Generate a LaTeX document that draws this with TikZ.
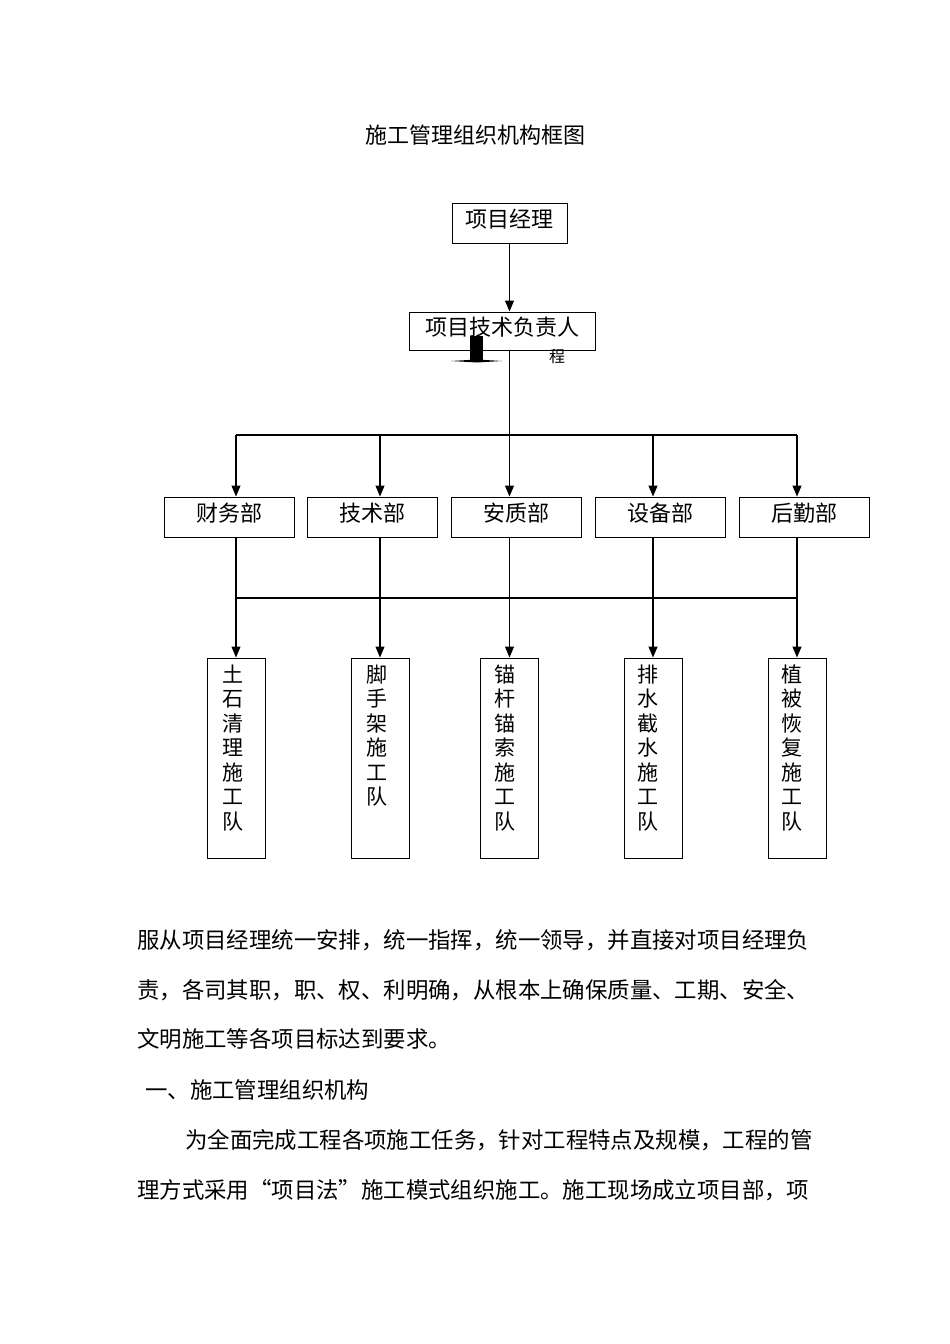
\documentclass[tikz,border=0pt]{standalone}
\usepackage{fontspec}
\newfontfamily\cjk{Noto Sans CJK SC}
\usetikzlibrary{calc, arrows.meta}

\tikzset{
  box/.style={draw, line width=1pt, inner sep=0pt, text depth=10pt, font=\cjk\fontsize{22}{24}\selectfont},
  dept/.style={box, minimum width=130pt, minimum height=40pt},
  team/.style={box, minimum width=58pt, minimum height=200pt},
  vtext/.style={font=\cjk\fontsize{21}{24.5}\selectfont, align=center, inner sep=0pt, anchor=north},
  link/.style={line width=1.2pt},
  arr/.style={link, -{Triangle[width=9pt,length=11pt]}},
  para/.style={font=\cjk\fontsize{22.4}{24}\selectfont, anchor=west, inner sep=0pt},
}

\begin{document}
\begin{tikzpicture}[x=1pt, y=-1pt]
    \useasboundingbox (0,0) rectangle (950,1344);

    \node[font=\cjk\fontsize{22}{24}\selectfont] (title) at (475,135) {施工管理组织机构框图};

    \node[box, minimum width=115pt, minimum height=40pt] (PM) at (509.5,223) {项目经理};
    \node[box, minimum width=186pt, minimum height=38pt] (TL) at (502,331) {项目技术负责人};
    \node[font=\cjk\fontsize{16}{16}\selectfont, inner sep=0pt] (cheng) at (557,357) {程};

    % the odd block mark under the box
    \fill (470,336) rectangle (483,361);
    \fill (451,361) -- (477,359.5) -- (502,361) -- (477,362.5) -- cycle;

    \node[dept] (D1) at (229,517) {财务部};
    \node[dept] (D2) at (372.5,517) {技术部};
    \node[dept] (D3) at (516,517) {安质部};
    \node[dept] (D4) at (660,517) {设备部};
    \node[dept] (D5) at (804,517) {后勤部};

    \node[team] (T1) at (236,758) {};
    \node[team] (T2) at (380,758) {};
    \node[team] (T3) at (509.5,758) {};
    \node[team] (T4) at (653,758) {};
    \node[team] (T5) at (797,758) {};

    \node[vtext] (L1) at ($(T1.north)+(-3,7)$) {土\\石\\清\\理\\施\\工\\队};
    \node[vtext] (L2) at ($(T2.north)+(-3,7)$) {脚\\手\\架\\施\\工\\队};
    \node[vtext] (L3) at ($(T3.north)+(-5,7)$) {锚\\杆\\锚\\索\\施\\工\\队};
    \node[vtext] (L4) at ($(T4.north)+(-5,7)$) {排\\水\\截\\水\\施\\工\\队};
    \node[vtext] (L5) at ($(T5.north)+(-5,7)$) {植\\被\\恢\\复\\施\\工\\队};

    \coordinate (A1) at (236,435);
    \coordinate (A2) at (380,435);
    \coordinate (A3) at (509.5,435);
    \coordinate (A4) at (653,435);
    \coordinate (A5) at (797,435);
    \coordinate (B1) at (236,598);
    \coordinate (B2) at (380,598);
    \coordinate (B3) at (509.5,598);
    \coordinate (B4) at (653,598);
    \coordinate (B5) at (797,598);

    \draw[arr] (PM.south -| A3) -- (TL.north -| A3);
    \draw[link] (TL.south -| A3) -- (A3);
    \draw[link] (A1) -- (A5);
    \draw[arr] (A1) -- (A1 |- D1.north);
    \draw[arr] (A2) -- (A2 |- D2.north);
    \draw[arr] (A3) -- (A3 |- D3.north);
    \draw[arr] (A4) -- (A4 |- D4.north);
    \draw[arr] (A5) -- (A5 |- D5.north);

    \draw[link] (D1.south -| B1) -- (B1);
    \draw[link] (D2.south -| B2) -- (B2);
    \draw[link] (D3.south -| B3) -- (B3);
    \draw[link] (D4.south -| B4) -- (B4);
    \draw[link] (D5.south -| B5) -- (B5);
    \draw[link, line width=2pt] (B1) -- (B5);
    \draw[arr] (B1) -- (T1.north);
    \draw[arr] (B2) -- (T2.north);
    \draw[arr] (B3) -- (T3.north);
    \draw[arr] (B4) -- (T4.north);
    \draw[arr] (B5) -- (T5.north);

    \node[para] (p1) at (137,940) {服从项目经理统一安排，统一指挥，统一领导，并直接对项目经理负};
    \node[para] (p2) at (137,990) {责，各司其职，职、权、利明确，从根本上确保质量、工期、安全、};
    \node[para] (p3) at (137,1039) {文明施工等各项目标达到要求。};
    \node[para] (p4) at (145,1090) {一、施工管理组织机构};
    \node[para] (p5) at (185,1140) {为全面完成工程各项施工任务，针对工程特点及规模，工程的管};
    \node[para] (p6) at (137,1190) {理方式采用“项目法”施工模式组织施工。施工现场成立项目部，项};
\end{tikzpicture}
\end{document}
